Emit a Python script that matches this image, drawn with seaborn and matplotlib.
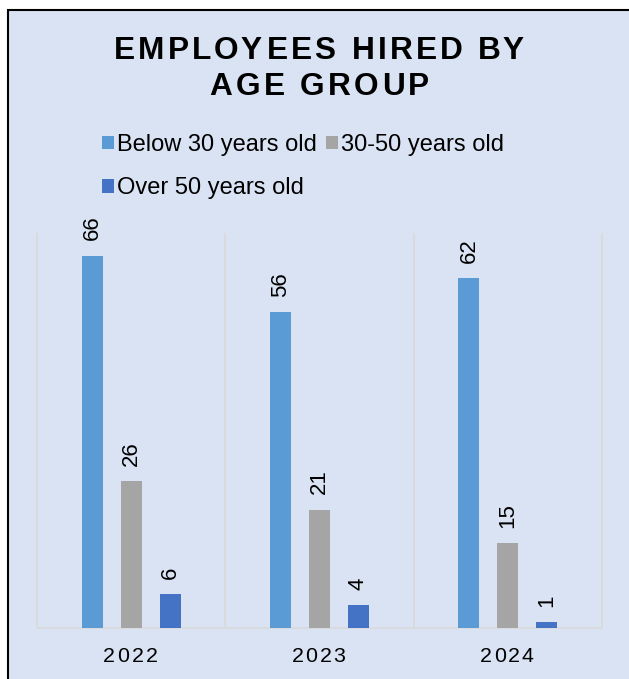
import matplotlib
matplotlib.use("Agg")
import matplotlib.pyplot as plt
from matplotlib.patches import Rectangle
from matplotlib.font_manager import FontProperties, findfont, get_font
import pandas as pd
import seaborn as sns

# Hiring counts per year and age band
years = ["2022", "2023", "2024"]
groups = ["Below 30 years old", "30-50 years old", "Over 50 years old"]
below_30 = [66, 56, 62]
age_30_50 = [26, 21, 15]
over_50 = [6, 4, 1]
colors = ["#5B9BD5", "#A5A5A5", "#4472C4"]
title_lines = ["EMPLOYEES HIRED BY", "AGE GROUP"]

rows = []
for series, name in zip([below_30, age_30_50, over_50], groups):
    for yr, v in zip(years, series):
        rows.append({"year": yr, "group": name, "count": v})
df = pd.DataFrame(rows)

W, H, DPI = 629, 679, 100
BG = "#DAE3F3"
GRID = "#D9D9D9"
FONT = "Liberation Sans"

sns.set_theme(style="white")
plt.rcParams["font.family"] = [FONT, "DejaVu Sans"]
plt.rcParams["text.color"] = "black"

fig = plt.figure(figsize=(W / DPI, H / DPI), dpi=DPI, facecolor="white")

# Chart frame: filled panel with a dark outline, running off the right/bottom edges
fig.patches.append(Rectangle((7.8 / W, -0.05), 1.2, 1 - 10 / H + 0.05,
                             transform=fig.transFigure, facecolor=BG,
                             edgecolor="black", linewidth=1.5, zorder=-5))

left_px, right_px, top_px, bottom_px = 37, 602, 233, 628
ax = fig.add_axes([left_px / W, 1 - bottom_px / H,
                   (right_px - left_px) / W, (bottom_px - top_px) / H])
ax.set_facecolor("none")

sns.barplot(data=df, x="year", y="count", hue="group", hue_order=groups,
            order=years, palette=colors, saturation=1, width=0.62, gap=0.46,
            linewidth=0, ax=ax, zorder=3)

ax.set_xlim(-0.5, len(years) - 0.5)
ax.set_ylim(0, 70)
ax.vlines([i - 0.5 for i in range(len(years) + 1)], 0, 70, color=GRID,
          lw=1.2, zorder=1, clip_on=False)
ax.hlines(0, -0.5, len(years) - 0.5, color=GRID, lw=1.2, zorder=2, clip_on=False)
for s in ax.spines.values():
    s.set_visible(False)
ax.set_xlabel("")
ax.set_ylabel("")
ax.set_yticks([])
ax.tick_params(axis="x", length=0, labelbottom=False)

for cont in ax.containers:
    ax.bar_label(cont, rotation=90, padding=11, fontsize=16, color="black",
                 family=FONT)

# Legend in rows: reorder so that entries flow left-to-right
handles, labels = ax.get_legend_handles_labels()
ax.get_legend().remove()
order = [0, 2, 1]
fig.legend([handles[i] for i in order], [labels[i] for i in order],
           loc="upper left", bbox_to_anchor=(101.7 / W, 1 - 134 / H),
           ncol=2, frameon=False, borderpad=0, borderaxespad=0,
           handlelength=0.51, handleheight=0.51, handletextpad=0.15,
           columnspacing=0.36, labelspacing=0.9, labelcolor="black",
           prop={"family": FONT, "size": 17})


def tracked_text(s, cx, baseline, size, weight, tracking):
    """Draw s centred at pixel x cx, baseline at pixel y (from top), with extra letter spacing."""
    fp = FontProperties(family=FONT, weight=weight, size=size)
    font = get_font(findfont(fp))
    font.set_size(size, DPI)
    glyphs = [font.load_char(ord(c)) for c in s]
    adv = [g.linearHoriAdvance / 65536 for g in glyphs]
    bear = [g.horiBearingX / 64 for g in glyphs]
    total = sum(adv) + tracking * (len(s) - 1)
    x = cx - total / 2
    for c, a, b in zip(s, adv, bear):
        if c != " ":
            fig.text((x + b) / W, 1 - baseline / H, c, fontproperties=fp,
                     ha="left", va="baseline", color="black")
        x += a + tracking


tracked_text(title_lines[0], 317.5, 59.3, 22.8, "bold", 3.2)
tracked_text(title_lines[1], 317.5, 95.0, 22.8, "bold", 3.2)

for i, yr in enumerate(years):
    px = ax.transData.transform((i, 0))[0]
    tracked_text(yr, px - 2, 662.3, 15.4, "normal", 2.3)

fig.savefig("out.png", dpi=DPI, facecolor="white")
